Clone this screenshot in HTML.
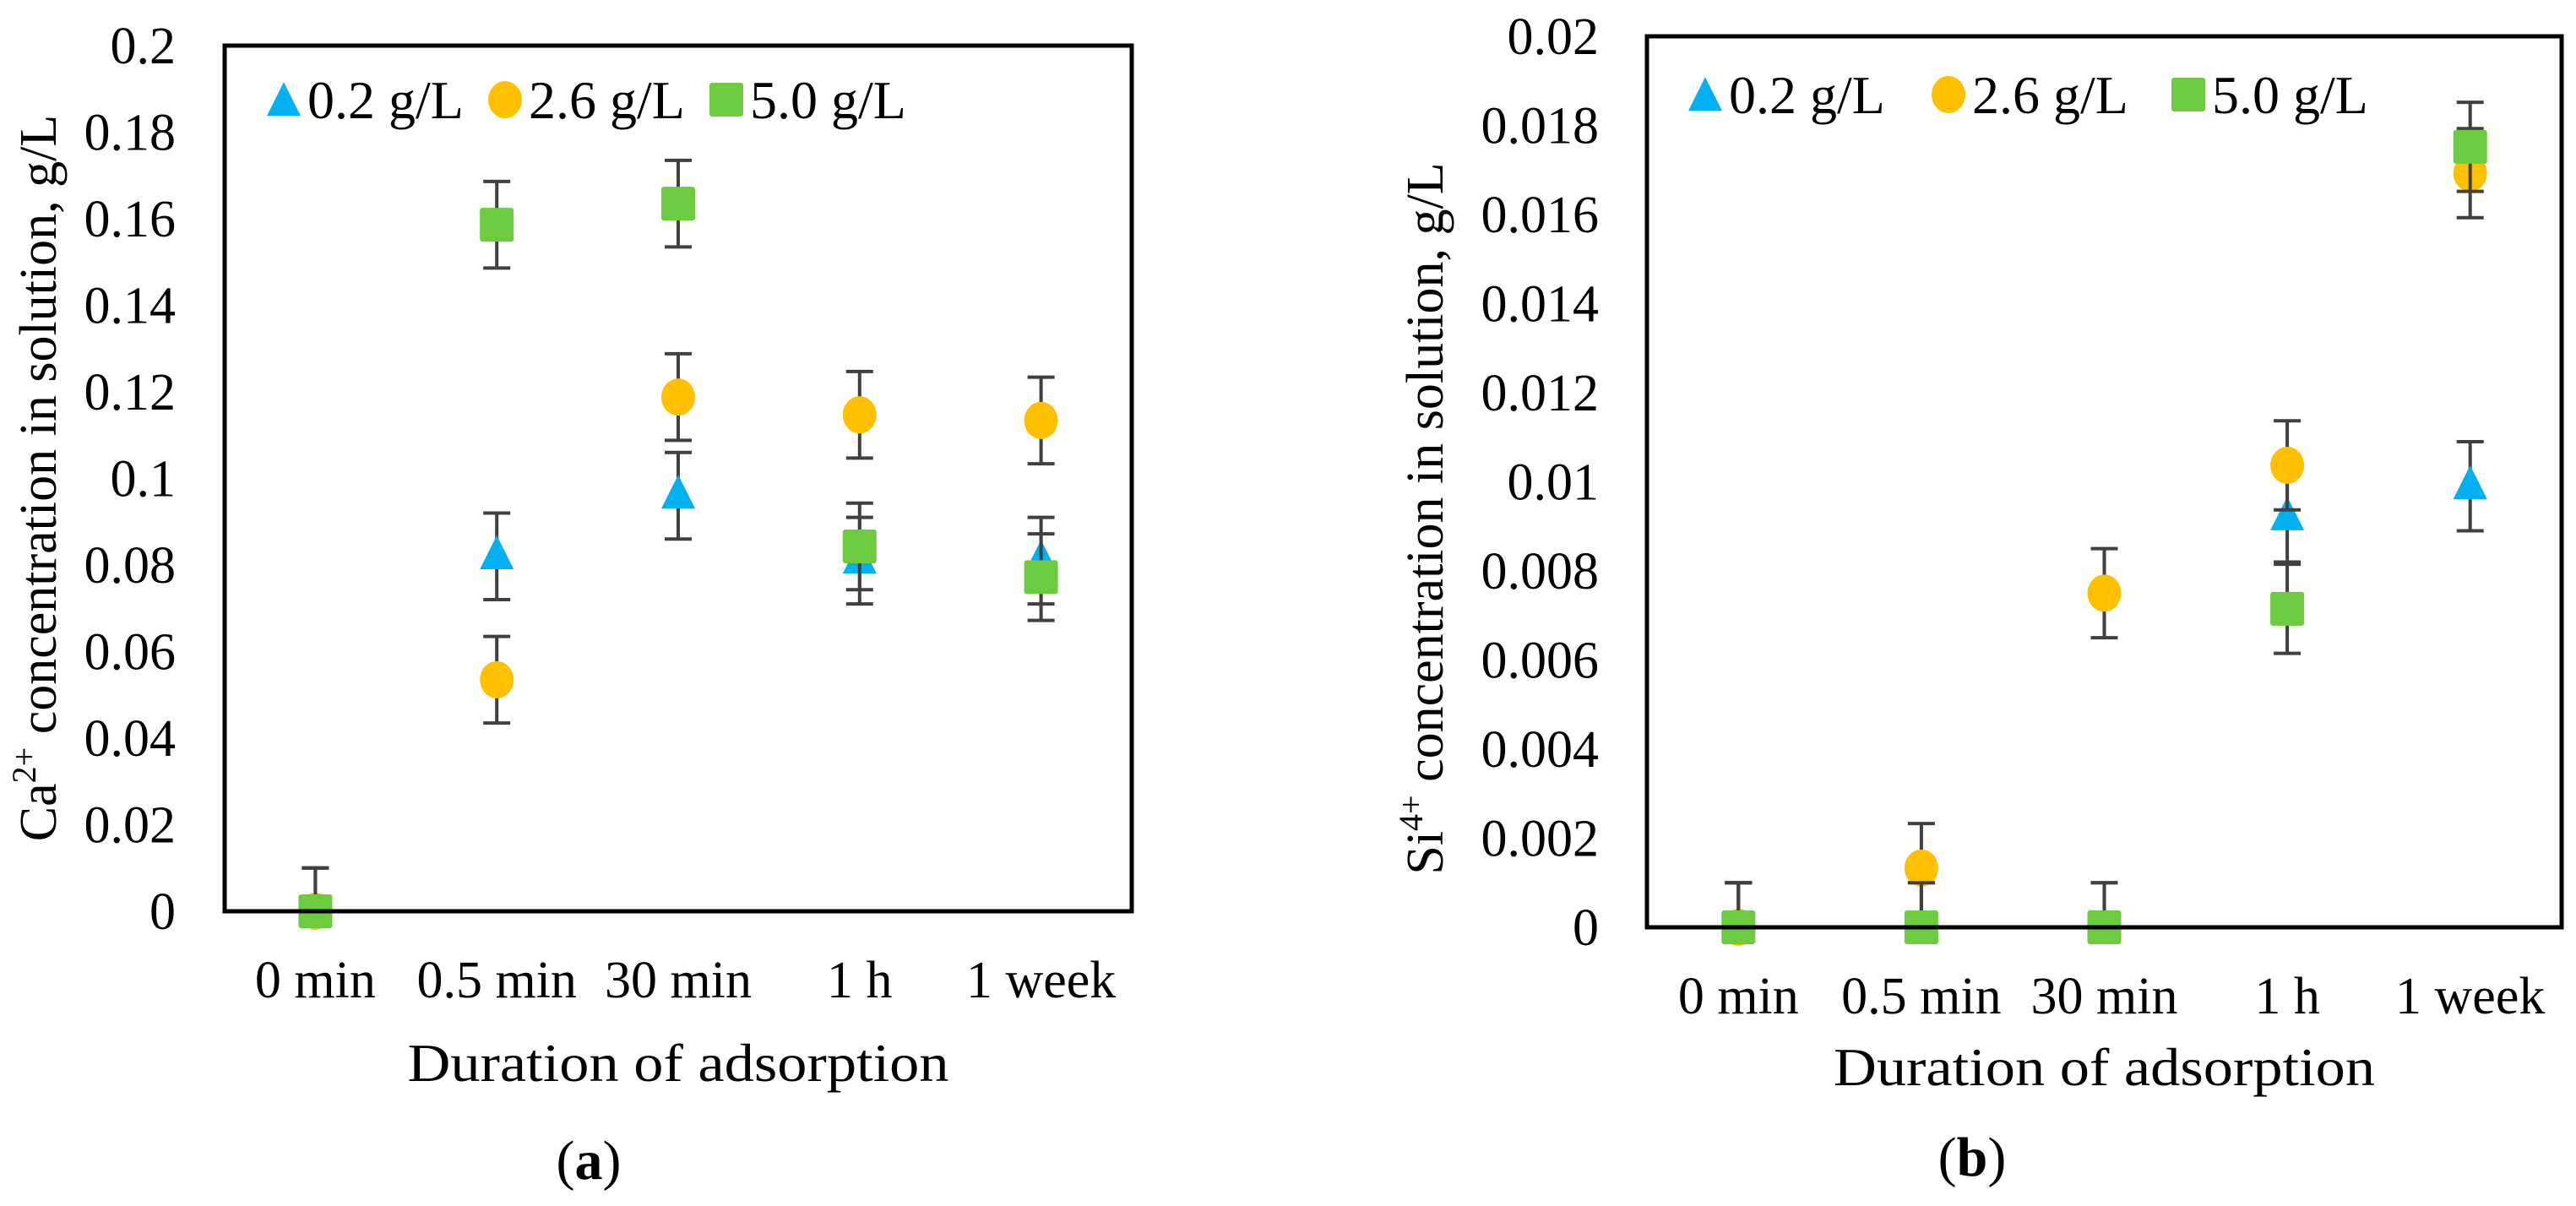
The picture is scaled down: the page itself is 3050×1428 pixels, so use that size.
<!DOCTYPE html>
<html><head><meta charset="utf-8"><style>
html,body{margin:0;padding:0;background:#fff;}
svg{display:block;}
text{font-family:"Liberation Serif",serif;fill:#000;}
</style></head><body>
<svg id="fig" width="3050" height="1428" viewBox="0 0 3050 1428"></svg>
<script>
const categories = ["0 min","0.5 min","30 min","1 h","1 week"];
const seriesNames = ["0.2 g/L","2.6 g/L","5.0 g/L"];
const caTicks = ["0","0.02","0.04","0.06","0.08","0.1","0.12","0.14","0.16","0.18","0.2"];
const caTickValues = [0,0.02,0.04,0.06,0.08,0.1,0.12,0.14,0.16,0.18,0.2];
const ca02 = [0,0.082,0.096,0.081,0.081];
const ca26 = [0,0.0535,0.1188,0.1147,0.1134];
const ca50 = [0,0.1586,0.1635,0.0843,0.0772];
const caErr = [0.01,0.01,0.01,0.01,0.01];
const siTicks = ["0","0.002","0.004","0.006","0.008","0.01","0.012","0.014","0.016","0.018","0.02"];
const siTickValues = [0,0.002,0.004,0.006,0.008,0.01,0.012,0.014,0.016,0.018,0.02];
const si02 = [0,0,0,0.0092,0.0099];
const si26 = [0,0.00133,0.0075,0.01037,0.01693];
const si50 = [0,0,0,0.00715,0.01752];
const siErr = [0.001,0.001,0.001,0.001,0.001];

const NS="http://www.w3.org/2000/svg";
const svg=document.getElementById('fig');
function mk(tag,attrs,parent){const e=document.createElementNS(NS,tag);for(const k in attrs)e.setAttribute(k,attrs[k]);(parent||svg).appendChild(e);return e;}
const colors=["#00B0F0","#FFC000","#6CCB3F"];

function marker(g,type,cx,cy,s){
  let e;
  if(type===0){e=mk('polygon',{points:`${cx},${cy-s*0.62} ${cx-s/2},${cy+s*0.38} ${cx+s/2},${cy+s*0.38}`,fill:colors[0]},g);}
  else if(type===1){e=mk('ellipse',{cx:cx,cy:cy,rx:s/2,ry:s/2+2,fill:colors[1]},g);}
  else{e=mk('rect',{x:cx-s/2,y:cy-s/2,width:s,height:s,rx:3,fill:colors[2]},g);}
  return e;
}

function panel(opt){
  const {L,T,R,B,max,ticks,tickVals,series,err,tickRight,ylabX,ylabY,ion,sup,xlabY,titleY,letter,letterX,letterY,legX,legY,legGaps,pname}=opt;
  const g=mk('g',{});
  
  
  const yS=v=>B-(v/max)*(B-T);
  const bw=(R-L)/categories.length;
  const xS=i=>L+bw*(i+0.5);
  // y tick labels
  ticks.forEach((t,i)=>{
    const e=mk('text',{x:tickRight,y:yS(tickVals[i])+21,'text-anchor':'end','font-size':62},g);
    e.textContent=t;
    
    
  });
  // x tick labels
  categories.forEach((c,i)=>{
    const e=mk('text',{x:xS(i),y:xlabY,'text-anchor':'middle','font-size':62},g);
    e.textContent=c;
    
    
  });
  // series
  series.forEach((vals,si)=>{
    const sg=mk('g',{},g);
    
    
    vals.forEach((v,i)=>{
      const x=xS(i),y=yS(v),up=yS(v+err[i]),lo=yS(Math.max(0,v-err[i]));
      const eb=mk('path',{d:`M${x},${lo}V${up}M${x-16},${up}H${x+16}`+(v-err[i]>=0?`M${x-16},${lo}H${x+16}`:''),stroke:'#404040','stroke-width':4,fill:'none'},sg);
      
      
      const m=marker(sg,si,x,y,40);
      
      
    });
  });
  // box
  const box=mk('rect',{x:L,y:T,width:R-L,height:B-T,fill:'none',stroke:'#000','stroke-width':5},g);
  
  
  // legend
  const lg=mk('g',{},g);
  
  
  let lx=legX;
  seriesNames.forEach((n,si)=>{
    const m=marker(lg,si,lx+20,legY+(si===0?4:0),40);
    
    
    const t=mk('text',{x:lx+48,y:legY+22,'font-size':64},lg);
    t.textContent=n;
    
    
    lx+=legGaps[si];
  });
  // y title
  const yt=mk('text',{x:0,y:0,'text-anchor':'middle','font-size':62,transform:`translate(${ylabX},${ylabY}) rotate(-90)`},g);
  
  
  const t1=mk('tspan',{},yt);t1.textContent=ion;
  const t2=mk('tspan',{dy:-24,'font-size':40},yt);t2.textContent=sup;
  const t3=mk('tspan',{dy:24},yt);t3.textContent=' concentration in solution, g/L';
  // x title
  const xt=mk('text',{x:(L+R)/2,y:titleY,'text-anchor':'middle','font-size':64,textLength:641,lengthAdjust:'spacingAndGlyphs'},g);
  xt.textContent='Duration of adsorption';
  
  
  // letter
  const lt=mk('text',{x:letterX,y:letterY,'text-anchor':'middle','font-size':66},g);
  
  
  const a=mk('tspan',{},lt);a.textContent='(';
  const b=mk('tspan',{'font-weight':'bold'},lt);b.textContent=letter;
  const c=mk('tspan',{},lt);c.textContent=')';
}

panel({L:266,T:54,R:1340,B:1079,max:0.2,ticks:caTicks,tickVals:caTickValues,series:[ca02,ca26,ca50],err:caErr,
  tickRight:208,ylabX:66,ylabY:566,ion:'Ca',sup:'2+',xlabY:1181,titleY:1280,letter:'a',letterX:697,letterY:1396,
  legX:316,legY:118,legGaps:[262,262,0],pname:'panel-a-calcium'});
panel({L:1950,T:43,R:3033,B:1098,max:0.02,ticks:siTicks,tickVals:siTickValues,series:[si02,si26,si50],err:siErr,
  tickRight:1893,ylabX:1708,ylabY:614,ion:'Si',sup:'4+',xlabY:1200,titleY:1285,letter:'b',letterX:2335,letterY:1392,
  legX:1999,legY:112,legGaps:[288,284,0],pname:'panel-b-silicon'});
</script>
</body></html>
